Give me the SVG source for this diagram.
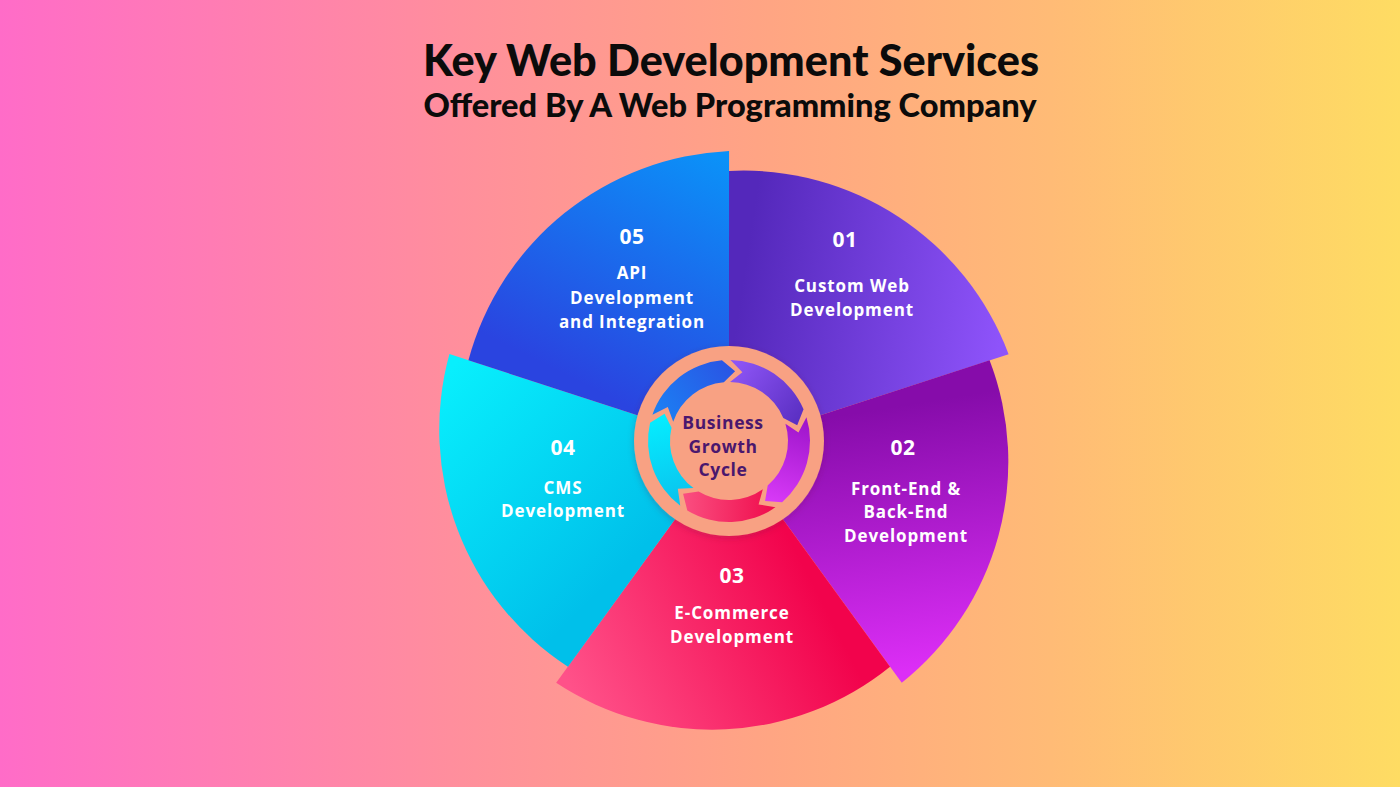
<svg xmlns="http://www.w3.org/2000/svg" width="1400" height="787" viewBox="0 0 1400 787">
  <defs>
    <linearGradient id="bg" x1="0" y1="0" x2="1400" y2="0" gradientUnits="userSpaceOnUse">
      <stop offset="0" stop-color="#ff6cc8"/>
      <stop offset="0.33" stop-color="#ff8f9c"/>
      <stop offset="0.55" stop-color="#ffa583"/>
      <stop offset="0.75" stop-color="#ffbb76"/>
      <stop offset="1" stop-color="#fedc63"/>
    </linearGradient>
    <linearGradient id="g01" x1="740" y1="300" x2="1000" y2="340" gradientUnits="userSpaceOnUse">
      <stop offset="0" stop-color="#5428bb"/>
      <stop offset="1" stop-color="#8e53fa"/>
    </linearGradient>
    <linearGradient id="g02" x1="740" y1="300" x2="1000" y2="340" gradientUnits="userSpaceOnUse">
      <stop offset="0" stop-color="#860caa"/>
      <stop offset="1" stop-color="#dc2ef6"/>
    </linearGradient>
    <linearGradient id="g03" x1="740" y1="300" x2="1000" y2="340" gradientUnits="userSpaceOnUse">
      <stop offset="0" stop-color="#f2034c"/>
      <stop offset="1" stop-color="#ff5189"/>
    </linearGradient>
    <linearGradient id="g04" x1="740" y1="300" x2="1000" y2="340" gradientUnits="userSpaceOnUse">
      <stop offset="0" stop-color="#00c0ea"/>
      <stop offset="1" stop-color="#08effd"/>
    </linearGradient>
    <linearGradient id="g05" x1="740" y1="300" x2="1000" y2="340" gradientUnits="userSpaceOnUse">
      <stop offset="0" stop-color="#2a44e0"/>
      <stop offset="1" stop-color="#0b91f8"/>
    </linearGradient>
    <linearGradient id="a01" x1="732" y1="368" x2="800" y2="420" gradientUnits="userSpaceOnUse">
      <stop offset="0" stop-color="#8e55f6"/>
      <stop offset="1" stop-color="#5a2fc2"/>
    </linearGradient>
    <linearGradient id="a02" x1="732" y1="368" x2="800" y2="420" gradientUnits="userSpaceOnUse">
      <stop offset="0" stop-color="#a016cc"/>
      <stop offset="1" stop-color="#d83af7"/>
    </linearGradient>
    <linearGradient id="a03" x1="732" y1="368" x2="800" y2="420" gradientUnits="userSpaceOnUse">
      <stop offset="0" stop-color="#f0104f"/>
      <stop offset="1" stop-color="#fa4e80"/>
    </linearGradient>
    <linearGradient id="a04" x1="732" y1="368" x2="800" y2="420" gradientUnits="userSpaceOnUse">
      <stop offset="0" stop-color="#0ac4ee"/>
      <stop offset="1" stop-color="#05edff"/>
    </linearGradient>
    <linearGradient id="a05" x1="732" y1="368" x2="800" y2="420" gradientUnits="userSpaceOnUse">
      <stop offset="0" stop-color="#1c7ef3"/>
      <stop offset="1" stop-color="#2a55e4"/>
    </linearGradient>
    <filter id="soft" x="-20%" y="-20%" width="140%" height="140%">
      <feDropShadow dx="0" dy="2" stdDeviation="3" flood-color="#6a2040" flood-opacity="0.25"/>
    </filter>
    <path id="wedge" d="M729,445 L729,171 A283,283 0 0 1 1008.6,354.2 Z"/>
    <path id="arrow" d="M730.41,360.01 A81,81 0 0 1 803.56,409.35 L797.21,425.25 L783.31,417.95 A59,59 0 0 0 730.03,382.01 L742.36,372.29 Z"/>
  </defs>
  <style>
    .title { font-family: Lato, "Open Sans", sans-serif; font-weight: 900; fill: #0b0b0b; text-anchor: middle; }
    .num { font-family: "Open Sans", "DejaVu Sans", sans-serif; font-weight: 700; font-size: 21px; fill: #ffffff; text-anchor: middle; letter-spacing: 0.5px; }
    .lbl { font-family: "Open Sans", "DejaVu Sans", sans-serif; font-weight: 700; font-size: 17px; fill: #ffffff; text-anchor: middle; letter-spacing: 0.9px; }
    .ctr { font-family: "Open Sans", "DejaVu Sans", sans-serif; font-weight: 700; font-size: 17.5px; fill: #4a176e; text-anchor: middle; letter-spacing: 0.6px; }
  </style>

  <rect x="0" y="0" width="1400" height="787" fill="url(#bg)"/>

  <g id="title">
    <text class="title" x="731" y="76" font-size="43" textLength="616" lengthAdjust="spacingAndGlyphs">Key Web Development Services</text>
    <text class="title" x="730" y="117" font-size="32" textLength="613" lengthAdjust="spacingAndGlyphs">Offered By A Web Programming Company</text>
  </g>

  <g id="node-01">
    <use href="#wedge" fill="url(#g01)"/>
    <text class="num" x="845" y="247">01</text>
    <text class="lbl" x="852" y="292">Custom Web</text>
    <text class="lbl" x="852" y="316">Development</text>
  </g>
  <g id="node-02">
    <use href="#wedge" fill="url(#g02)" transform="rotate(72 729 445)"/>
    <text class="num" x="903" y="455">02</text>
    <text class="lbl" x="906" y="495">Front-End &amp;</text>
    <text class="lbl" x="906" y="518">Back-End</text>
    <text class="lbl" x="906" y="542">Development</text>
  </g>
  <g id="node-03">
    <use href="#wedge" fill="url(#g03)" transform="rotate(144 729 445)"/>
    <text class="num" x="732" y="583">03</text>
    <text class="lbl" x="732" y="619">E-Commerce</text>
    <text class="lbl" x="732" y="643">Development</text>
  </g>
  <g id="node-04">
    <use href="#wedge" fill="url(#g04)" transform="rotate(216 729 445)"/>
    <text class="num" x="563" y="455">04</text>
    <text class="lbl" x="563" y="494">CMS</text>
    <text class="lbl" x="563" y="517">Development</text>
  </g>
  <g id="node-05">
    <use href="#wedge" fill="url(#g05)" transform="rotate(288 729 445)"/>
    <text class="num" x="632" y="244">05</text>
    <text class="lbl" x="632" y="279">API</text>
    <text class="lbl" x="632" y="304">Development</text>
    <text class="lbl" x="632" y="328">and Integration</text>
  </g>

  <g id="node-center">
    <circle cx="729" cy="441" r="95" fill="#f8a183" filter="url(#soft)"/>
    <text class="ctr" x="723" y="429">Business</text>
    <text class="ctr" x="723" y="453">Growth</text>
    <text class="ctr" x="723" y="476">Cycle</text>
  </g>

  <g id="connectors">
    <use href="#arrow" fill="url(#a01)"/>
    <use href="#arrow" fill="url(#a02)" transform="rotate(72 729 441)"/>
    <use href="#arrow" fill="url(#a03)" transform="rotate(144 729 441)"/>
    <use href="#arrow" fill="url(#a04)" transform="rotate(216 729 441)"/>
    <use href="#arrow" fill="url(#a05)" transform="rotate(288 729 441)"/>
  </g>
</svg>
